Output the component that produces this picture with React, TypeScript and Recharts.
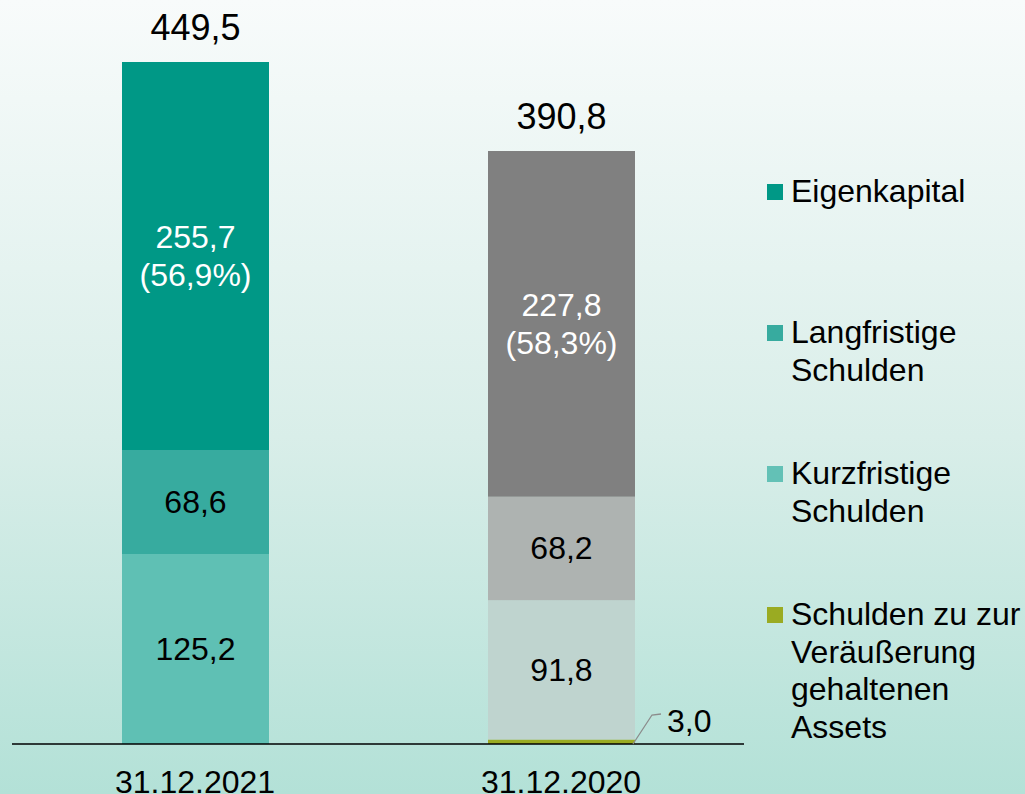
import { BarChart, Bar, XAxis, YAxis, Legend, LabelList, Cell } from "recharts";

const categories = ["31.12.2021", "31.12.2020"];
const zurVeraeusserung = [0, 3.0];
const kurzfristig = [125.2, 91.8];
const langfristig = [68.6, 68.2];
const eigenkapital = [255.7, 227.8];
const totals = [449.5, 390.8];
const eigenkapitalQuote = ["56,9%", "58,3%"];

const legendItems = [
  { lines: ["Eigenkapital"], color: "#009886" },
  { lines: ["Langfristige", "Schulden"], color: "#37ab9f" },
  { lines: ["Kurzfristige", "Schulden"], color: "#63c1b6" },
  { lines: ["Schulden zu zur", "Veräußerung", "gehaltenen", "Assets"], color: "#9aab22" },
];

const colors = {
  assets: ["#9aab22", "#9aab22"],
  kurz: ["#5fc0b4", "#bfd4cf"],
  lang: ["#37ab9f", "#aeb3b1"],
  eigen: ["#009886", "#808080"],
};

const data = categories.map((name, i) => ({
  name,
  assets: zurVeraeusserung[i],
  kurz: kurzfristig[i],
  lang: langfristig[i],
  eigen: eigenkapital[i],
  total: totals[i],
}));

const FONT = "'Liberation Sans', Arial, sans-serif";
const fmt = (v: number) => v.toFixed(1).replace(".", ",");

function box(p: any) {
  const vb = p.viewBox ?? p;
  return { x: Number(vb.x), y: Number(vb.y), width: Number(vb.width), height: Number(vb.height) };
}

const centerLabel = (p: any) => {
  const { x, y, width, height } = box(p);
  return (
    <text x={x + width / 2} y={y + height / 2} textAnchor="middle" dominantBaseline="central" fontSize={32} fill="#000" fontFamily={FONT}>
      {fmt(Number(p.value))}
    </text>
  );
};

const eigenLabel = (p: any) => {
  const { x, y, width, height } = box(p);
  const cx = x + width / 2;
  const cy = y + height / 2;
  return (
    <g>
      <text x={cx} y={cy - 19} textAnchor="middle" dominantBaseline="central" fontSize={32} fill="#fff" fontFamily={FONT}>
        {fmt(Number(p.value))}
      </text>
      <text x={cx} y={cy + 19} textAnchor="middle" dominantBaseline="central" fontSize={32} fill="#fff" fontFamily={FONT}>
        ({eigenkapitalQuote[p.index]})
      </text>
    </g>
  );
};

const totalLabel = (p: any) => {
  const { x, y, width } = box(p);
  return (
    <text x={x + width / 2} y={y - 22} textAnchor="middle" fontSize={36} fill="#000" fontFamily={FONT}>
      {fmt(Number(p.value))}
    </text>
  );
};

const assetsLabel = (p: any) => {
  if (!p.value) return null;
  const { x, y, width, height } = box(p);
  const bx = x + width - 2;
  const by = y + height;
  return (
    <g>
      <polyline
        points={`${bx},${by} ${bx + 19},${by - 29} ${bx + 28},${by - 30}`}
        fill="none"
        stroke="#8c8c8c"
        strokeWidth={1.3}
      />
      <text x={bx + 34} y={by - 12} fontSize={32} fill="#000" fontFamily={FONT}>
        {fmt(Number(p.value))}
      </text>
    </g>
  );
};

const renderLegend = () => (
  <div style={{ fontFamily: FONT, fontSize: 32, lineHeight: "37.5px", color: "#000" }}>
    {legendItems.map((item) => (
      <div key={item.lines[0]} style={{ position: "relative", height: 141, paddingLeft: 24 }}>
        <span
          style={{
            position: "absolute",
            left: 0,
            top: 11,
            width: 16,
            height: 16,
            background: item.color,
          }}
        />
        {item.lines.map((l) => (
          <div key={l} style={{ whiteSpace: "nowrap" }}>{l}</div>
        ))}
      </div>
    ))}
  </div>
);

export default function App() {
  return (
    <div
      style={{
        position: "absolute",
        left: 0,
        top: 0,
        width: 1025,
        height: 794,
        overflow: "hidden",
        background: "linear-gradient(to bottom, #f8fbfb 0%, #d9eee9 55%, #b3e1d7 100%)",
      }}
    >
      <BarChart width={1025} height={794} data={data} margin={{ top: 46, right: 281, bottom: 0, left: 12 }} barSize={147}>
        <XAxis
          dataKey="name"
          height={50}
          tickLine={false}
          tickSize={0}
          tickMargin={26}
          axisLine={{ stroke: "#000", strokeWidth: 1.6 }}
          tick={{ fontSize: 32, fill: "#000", fontFamily: FONT }}
        />
        <YAxis hide domain={[0, 460]} />
        <Legend
          layout="vertical"
          align="center"
          verticalAlign="middle"
          content={renderLegend}
          wrapperStyle={{ left: 767, top: 173, width: 258 }}
        />
        <Bar dataKey="assets" stackId="a" isAnimationActive={false}>
          {data.map((d, i) => <Cell key={d.name} fill={colors.assets[i]} />)}
          <LabelList dataKey="assets" content={assetsLabel} />
        </Bar>
        <Bar dataKey="kurz" stackId="a" isAnimationActive={false}>
          {data.map((d, i) => <Cell key={d.name} fill={colors.kurz[i]} />)}
          <LabelList dataKey="kurz" content={centerLabel} />
        </Bar>
        <Bar dataKey="lang" stackId="a" isAnimationActive={false}>
          {data.map((d, i) => <Cell key={d.name} fill={colors.lang[i]} />)}
          <LabelList dataKey="lang" content={centerLabel} />
        </Bar>
        <Bar dataKey="eigen" stackId="a" isAnimationActive={false}>
          {data.map((d, i) => <Cell key={d.name} fill={colors.eigen[i]} />)}
          <LabelList dataKey="eigen" content={eigenLabel} />
          <LabelList dataKey="total" content={totalLabel} />
        </Bar>
      </BarChart>
    </div>
  );
}
